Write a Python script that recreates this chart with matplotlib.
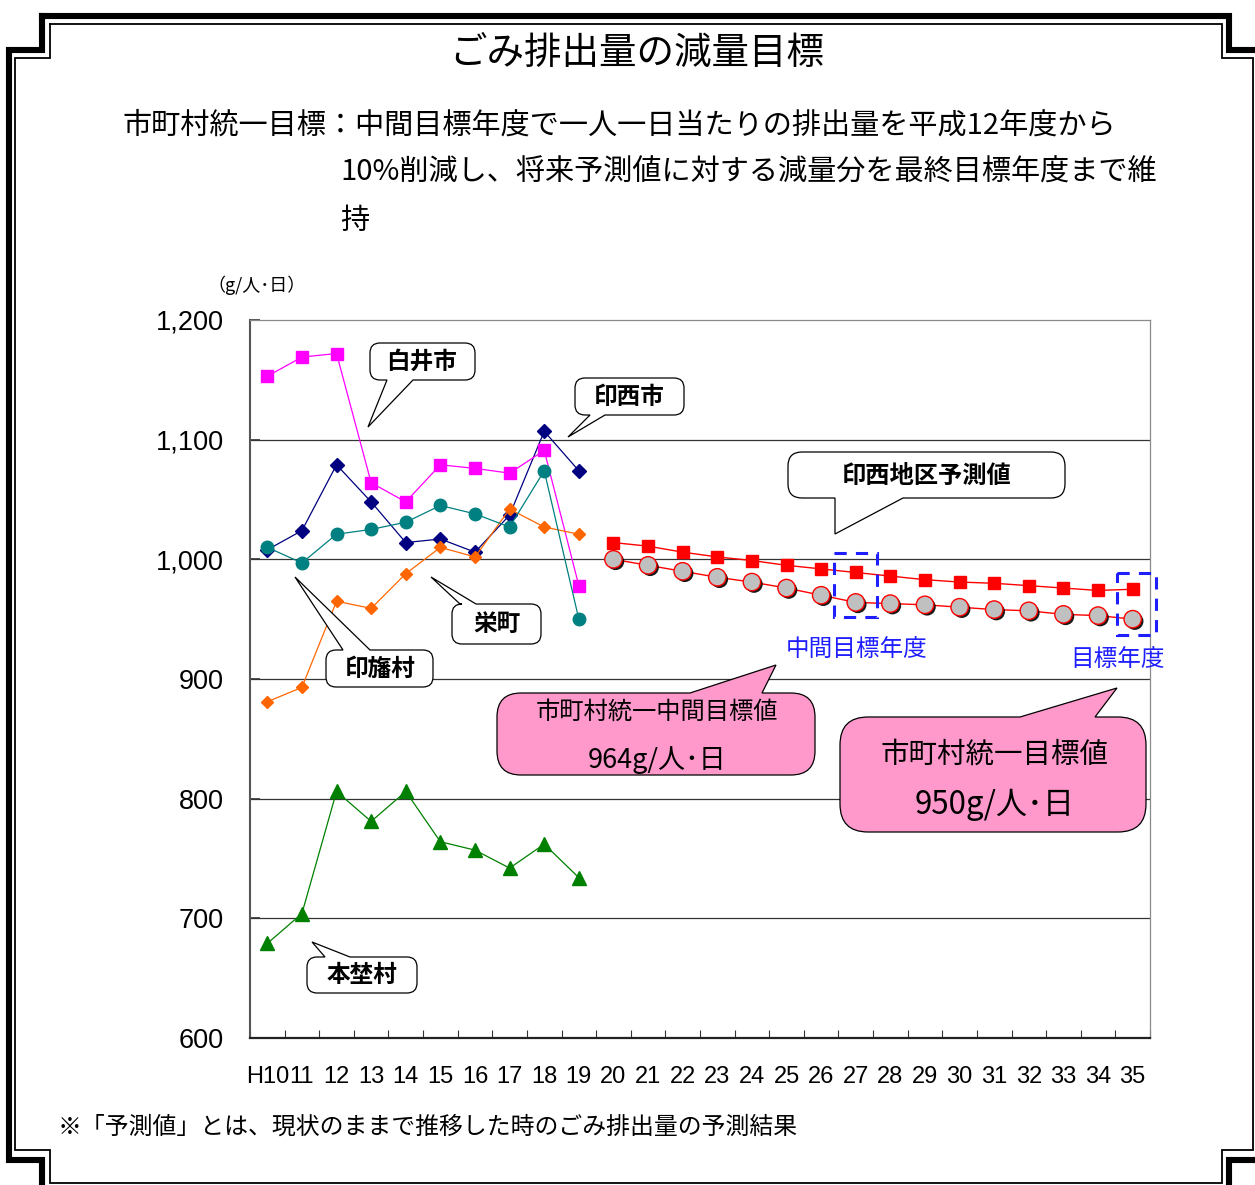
import matplotlib
matplotlib.use("Agg")
import matplotlib.pyplot as plt
from matplotlib.path import Path
from matplotlib.patches import PathPatch, Rectangle
from matplotlib import patheffects as pe

# ---------------- data ----------------
categories = ['H10', '11', '12', '13', '14', '15', '16', '17', '18', '19',
              '20', '21', '22', '23', '24', '25', '26', '27', '28', '29',
              '30', '31', '32', '33', '34', '35']
hist_idx = list(range(0, 10))        # H10 .. 19
fut_idx = list(range(10, 26))        # 20 .. 35

shiroi = [1153, 1169, 1172, 1064, 1048, 1079, 1076, 1072, 1091, 978]
inzai = [1008, 1024, 1079, 1048, 1014, 1017, 1006, 1037, 1107, 1074]
sakae = [881, 893, 965, 959, 988, 1010, 1002, 1042, 1027, 1021]
inba = [1010, 997, 1021, 1025, 1031, 1045, 1038, 1027, 1074, 950]
motono = [679, 704, 806, 781, 806, 764, 757, 742, 762, 734]
forecast = [1014, 1011, 1006, 1002, 999, 995, 992, 989, 986, 983, 981, 980,
            978, 976, 974, 975]
target = [1000, 995, 990, 985, 981, 976, 970, 964, 963, 962, 960, 958, 957,
          954, 953, 950]

yticks = [600, 700, 800, 900, 1000, 1100, 1200]
ytick_labels = ['600', '700', '800', '900', '1,000', '1,100', '1,200']

JP = ['Noto Sans CJK JP', 'DejaVu Sans']

W, H = 1255, 1185
fig = plt.figure(figsize=(W / 100, H / 100), dpi=100)
fig.patch.set_facecolor('white')

# background axes in pixel coordinates
bg = fig.add_axes([0, 0, 1, 1], zorder=0)
bg.set_xlim(0, W)
bg.set_ylim(H, 0)
bg.axis('off')

# frame
outer = [(42, 16), (1229, 16), (1229, 50), (1262, 50), (1262, 1160), (1229, 1160),
         (1229, 1194), (42, 1194), (42, 1160), (9, 1160), (9, 50), (42, 50), (42, 16)]
inner = [(50, 24), (1222, 24), (1222, 58), (1253, 58), (1253, 1150), (1222, 1150),
         (1222, 1183), (50, 1183), (50, 1150), (15, 1150), (15, 58), (50, 58), (50, 24)]
bg.plot([p[0] for p in outer], [p[1] for p in outer], color='black', lw=4.4,
        solid_joinstyle='miter', clip_on=False)
bg.plot([p[0] for p in inner], [p[1] for p in inner], color='black', lw=1.3,
        solid_joinstyle='miter', clip_on=False)

# title / subtitle / notes
bg.text(637, 53, 'ごみ排出量の減量目標', family=JP, fontsize=27, ha='center', va='center')
bg.text(123, 126, '市町村統一目標：中間目標年度で一人一日当たりの排出量を平成12年度から',
        family=JP, fontsize=21, ha='left', va='center')
bg.text(340, 173, '10%削減し、将来予測値に対する減量分を最終目標年度まで維',
        family=JP, fontsize=21, ha='left', va='center')
bg.text(340, 221, '持', family=JP, fontsize=21, ha='left', va='center')
bg.text(207, 285, '（g/人･日）', family=JP, fontsize=13, ha='left', va='center')
bg.text(58, 1127, '※「予測値」とは、現状のままで推移した時のごみ排出量の予測結果',
        family=JP, fontsize=17.2, ha='left', va='center')

# ---------------- main axes ----------------
ax = fig.add_axes([250 / W, 1 - 1038 / H, 900 / W, 718 / H], zorder=1)
ax.set_xlim(-0.5, len(categories) - 0.5)
ax.set_ylim(600, 1200)
ax.set_yticks(yticks)
ax.set_yticklabels(ytick_labels, family=['Liberation Sans', 'DejaVu Sans'], fontsize=19.5)
ax.set_xticks(range(len(categories)))
ax.set_xticklabels(categories, family=['Liberation Sans Narrow', 'Liberation Sans', 'DejaVu Sans'],
                   fontsize=17)
ax.set_xticks([i + 0.5 for i in range(-1, len(categories))], minor=True)
ax.tick_params(axis='x', which='major', length=0, pad=20)
ax.tick_params(axis='x', which='minor', direction='in', length=6, width=0.8, color='#333333')
ax.tick_params(axis='y', which='major', direction='in', length=7, width=1.2, color='#333333',
               pad=19)
for y in yticks[1:-1]:
    ax.axhline(y, color='#333333', lw=0.9, zorder=0.5)
for s in ['top', 'right']:
    ax.spines[s].set_color('#8a8a8a')
    ax.spines[s].set_linewidth(0.9)
ax.spines['left'].set_color('#555555')
ax.spines['left'].set_linewidth(1.5)
ax.spines['bottom'].set_color('#222222')
ax.spines['bottom'].set_linewidth(1.6)

lw = 0.9
ax.plot(hist_idx, inzai, color='#000080', lw=lw, marker='D', ms=6.8, mec='#000080', zorder=3)
ax.plot(hist_idx, shiroi, color='#FF00FF', lw=lw, marker='s', ms=8.6, mec='#FF00FF', zorder=3)
ax.plot(hist_idx, sakae, color='#FF6600', lw=lw, marker='D', ms=6.0, mec='#FF6600', zorder=3)
ax.plot(hist_idx, inba, color='#008080', lw=lw, marker='o', ms=9, mec='#008080', zorder=3)
ax.plot(hist_idx, motono, color='#008000', lw=lw, marker='^', ms=9.5, mec='#008000', zorder=3)

ax.plot(fut_idx, forecast, color='#FF0000', lw=1.0, marker='s', ms=8, mec='#FF0000', zorder=3)
ax.plot(fut_idx, target, color='#FF0000', lw=1.0, zorder=3)
ax.plot(fut_idx, target, ls='none', marker='o', ms=12.5, mfc='#C0C0C0', mec='#FF0000',
        mew=1.0, zorder=4,
        path_effects=[pe.SimplePatchShadow(offset=(1.5, -1.5), shadow_rgbFace='black',
                                           alpha=0.9), pe.Normal()])

# ---------------- overlay for callouts ----------------
ov = fig.add_axes([0, 0, 1, 1], zorder=5)
ov.set_xlim(0, W)
ov.set_ylim(H, 0)
ov.axis('off')
ov.patch.set_alpha(0)


def callout(x0, y0, x1, y1, side, ba, bb, tip, fc='white', r=10, lw=0.9):
    v = [(x0 + r, y0)]
    c = [Path.MOVETO]
    if side == 'top':
        v += [(ba, y0), tip, (bb, y0)]
        c += [Path.LINETO] * 3
    v += [(x1 - r, y0), (x1, y0), (x1, y0 + r), (x1, y1 - r), (x1, y1), (x1 - r, y1)]
    c += [Path.LINETO, Path.CURVE3, Path.CURVE3, Path.LINETO, Path.CURVE3, Path.CURVE3]
    if side == 'bottom':
        v += [(bb, y1), tip, (ba, y1)]
        c += [Path.LINETO] * 3
    v += [(x0 + r, y1), (x0, y1), (x0, y1 - r), (x0, y0 + r), (x0, y0), (x0 + r, y0),
          (x0 + r, y0)]
    c += [Path.LINETO, Path.CURVE3, Path.CURVE3, Path.LINETO, Path.CURVE3, Path.CURVE3,
          Path.CLOSEPOLY]
    ov.add_patch(PathPatch(Path(v, c), facecolor=fc, edgecolor='black', lw=lw,
                           clip_on=False))


# white callouts
callout(370, 343, 475, 380, 'bottom', 387, 413, (368, 427))
ov.text(422, 362, '白井市', family=JP, fontsize=17, weight='bold', ha='center', va='center')
callout(575, 378, 684, 415, 'bottom', 590, 605, (568, 437))
ov.text(629, 397, '印西市', family=JP, fontsize=17, weight='bold', ha='center', va='center')
callout(788, 452, 1065, 498, 'bottom', 835, 903, (835, 534), r=14)
ov.text(927, 476, '印西地区予測値', family=JP, fontsize=17.5, weight='bold', ha='center',
        va='center')
callout(452, 604, 541, 644, 'top', 460, 476, (431, 577))
ov.text(497, 624, '栄町', family=JP, fontsize=17, weight='bold', ha='center', va='center')
callout(326, 650, 433, 687, 'top', 343, 370, (295, 577))
ov.text(380, 669, '印旛村', family=JP, fontsize=17, weight='bold', ha='center', va='center')
callout(307, 957, 417, 993, 'top', 325, 350, (312, 942))
ov.text(362, 975, '本埜村', family=JP, fontsize=17, weight='bold', ha='center', va='center')

# pink callouts
callout(497, 693, 815, 775, 'top', 690, 762, (776, 665), fc='#FF99CC', r=24)
ov.text(657, 712, '市町村統一中間目標値', family=JP, fontsize=17.5, ha='center', va='center')
ov.text(657, 760, '964g/人･日', family=JP, fontsize=19.5, ha='center', va='center')
callout(840, 717, 1146, 832, 'top', 1020, 1095, (1117, 688), fc='#FF99CC', r=28)
ov.text(995, 755, '市町村統一目標値', family=JP, fontsize=20.5, ha='center', va='center')
ov.text(995, 805, '950g/人･日', family=JP, fontsize=22.5, ha='center', va='center')

# blue dashed target-year boxes
blue = '#1E1EFF'
ov.add_patch(Rectangle((834, 553), 43, 64, fill=False, edgecolor=blue, lw=2.2,
                       ls=(0, (4, 3)), clip_on=False))
ov.add_patch(Rectangle((1117, 573), 39, 62, fill=False, edgecolor=blue, lw=2.2,
                       ls=(0, (4, 3)), clip_on=False))
ov.text(857, 649, '中間目標年度', family=JP, fontsize=17, color=blue, ha='center', va='center')
ov.text(1118, 660, '目標年度', family=JP, fontsize=17, color=blue, ha='center', va='center')

fig.savefig('out.png', dpi=100, facecolor='white')
